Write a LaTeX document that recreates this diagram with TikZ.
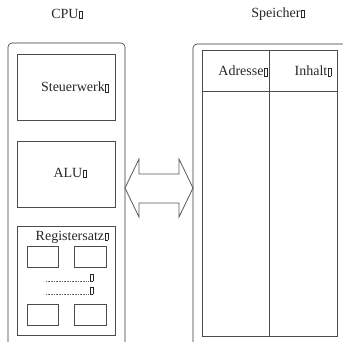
\documentclass[tikz,border=0pt]{standalone}
\usepackage{fontspec}
\setmainfont{Liberation Serif}
\newcommand\mk{\kern0.6pt{\setlength\fboxsep{0pt}\setlength\fboxrule{0.45pt}\fbox{\rule{0pt}{7pt}\kern2.6pt}}}
\tikzset{
  lbl/.style={font=\fontsize{14}{16}\selectfont, text=black!85, inner sep=0pt},
  unit/.style={draw=black!70, anchor=north west, minimum width=98pt, inner sep=0pt},
  reg/.style={draw=black!70, anchor=north west, minimum height=21pt, inner sep=0pt},
  frame/.style={draw=black!80, rounded corners=4pt},
  dots/.style={draw=black!60, dash pattern=on 0.8pt off 0.8pt}
}
\begin{document}
\begin{tikzpicture}[x=1pt,y=-1pt,line width=0.6pt]
    \useasboundingbox (0,0) rectangle (343,341);
    \begin{scope}
        \clip (0,0) rectangle (343,341);
        \draw[frame] (8,43) rectangle (125,350);
        \draw[frame] (193,44) rectangle (360,350);
    \end{scope}

    \node[lbl] (cpu) at (67,14) {CPU\mk};
    \node[lbl] (speicher) at (278,14) {Speicher\mk};

    \node[unit, minimum height=66pt] (sw) at (17,54) {};
    \node[unit, minimum height=66pt] (alu) at (17,141) {};
    \node[unit, minimum height=109pt] (regs) at (17,226) {};
    \node[lbl] (swtext) at (75,87) {Steuerwerk\mk};
    \node[lbl] (alutext) at (70,173) {ALU\mk};
    \node[lbl] (regtext) at (72,237) {Registersatz\mk};

    \node[reg, minimum width=31pt] (r1) at (27,246) {};
    \node[reg, minimum width=32pt] (r2) at (74,246) {};
    \node[reg, minimum width=31pt] (r3) at (27,304) {};
    \node[reg, minimum width=32pt] (r4) at (74,304) {};

    \node[lbl, anchor=south west] (m1) at (89,282) {\mk};
    \node[lbl, anchor=south west] (m2) at (89,295) {\mk};
    \coordinate (d1) at (46,281);
    \coordinate (d2) at (46,294);
    \draw[dots] (d1) -- (d1 -| m1.west);
    \draw[dots] (d2) -- (d2 -| m2.west);

    \draw[black!65, line width=0.8pt] (125,188) -- (139,159) -- (139,174) -- (179,174) -- (179,159)
        -- (193,188) -- (179,217) -- (179,203) -- (139,203) -- (139,217) -- cycle;

    \draw[black!70] (202,50) rectangle (337,336);
    \draw[black!70] (202,91) -- (337,91);
    \draw[black!70] (269,50) -- (269,336);
    \node[lbl] (adr) at (243,71) {Adresse\mk};
    \node[lbl] (inh) at (313,71) {Inhalt\mk};
\end{tikzpicture}
\end{document}
